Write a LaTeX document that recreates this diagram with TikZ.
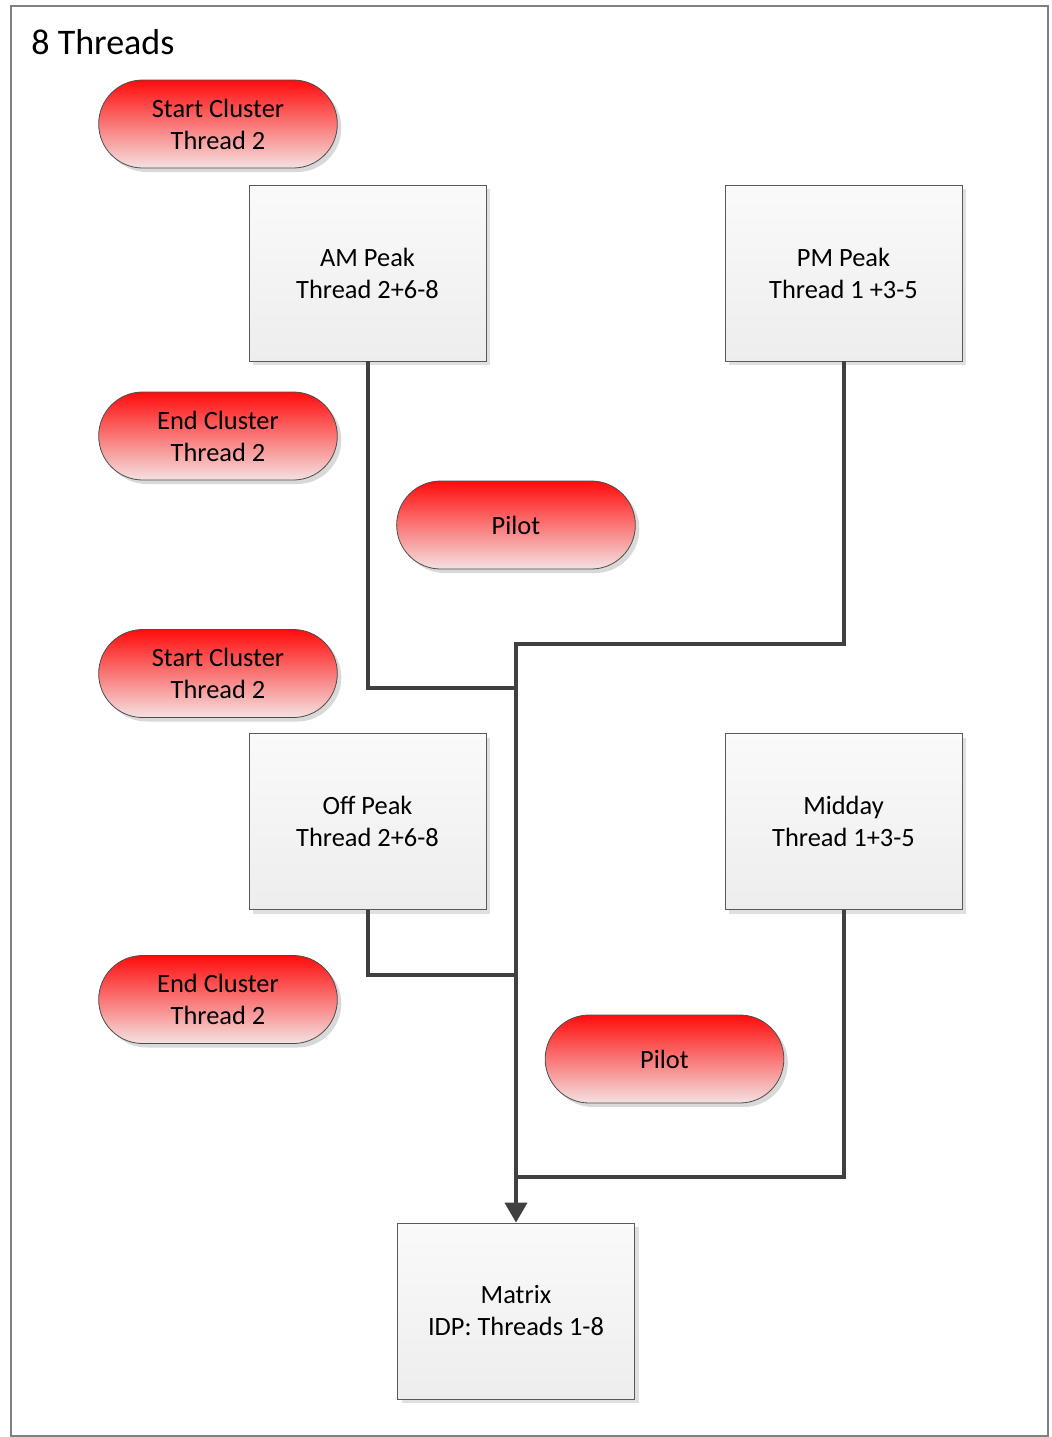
\documentclass[tikz,border=0pt]{standalone}
\usepackage{fontspec}
\setmainfont{Carlito}
\usetikzlibrary{arrows.meta,positioning,shapes.misc,shadows}

\begin{document}
\begin{tikzpicture}[x=0.5pt,y=-0.5pt,
  font=\fontsize{13.2}{16}\selectfont,
  pill/.style={rounded rectangle, draw=black!70, thin, minimum width=126pt, minimum height=44pt,
    top color=red!100!magenta!95, bottom color=red!8!white!96!black, align=center,
    drop shadow={shadow xshift=2pt, shadow yshift=-2pt, fill=black!25, opacity=0.6}},
  task/.style={rectangle, draw=black!65, thin, minimum width=118.5pt, minimum height=88pt,
    top color=black!2, bottom color=black!7, align=center,
    drop shadow={shadow xshift=2pt, shadow yshift=-2pt, fill=black!20, opacity=0.6}},
  conn/.style={draw=black!75, line width=2pt}]
  \useasboundingbox (0,0) rectangle (1051,1437);
  \draw[black!50, line width=1pt] (11,6) rectangle (1048,1436);

  \node (title) [anchor=west, inner sep=0pt, font=\fontsize{18}{20}\selectfont] at (31,42) {8 Threads};

  \node (sc1) [pill] at (218,124) {Start Cluster\\Thread 2};
  \node (am) [task] at (367.5,273) {AM Peak\\Thread 2+6-8};
  \node (pm) [task] at (843.5,273) {PM Peak\\Thread 1 +3-5};
  \node (ec1) [pill] at (218,436) {End Cluster\\Thread 2};
  \node (pilot1) [pill] at (516,525) {Pilot};

  \node (sc2) [pill] at (218,673.5) {Start Cluster\\Thread 2};
  \node (off) [task] at (367.5,821.5) {Off Peak\\Thread 2+6-8};
  \node (mid) [task] at (843.5,821.5) {Midday\\Thread 1+3-5};
  \node (ec2) [pill] at (218,999.5) {End Cluster\\Thread 2};
  \node (pilot2) [pill] at (664.5,1059) {Pilot};

  \node (matrix) [task] at (516,1311) {Matrix\\IDP: Threads 1-8};

  \coordinate (j0) at (516,644);
  \coordinate (j1) at (516,688);
  \coordinate (j2) at (516,975);
  \coordinate (j3) at (516,1177);

  \draw[conn, -{Triangle[width=11pt,length=10pt]}] (pm.south) |- (j0) -- (matrix.north);
  \draw[conn] (am.south) |- (j1);
  \draw[conn] (off.south) |- (j2);
  \draw[conn] (mid.south) |- (j3);
\end{tikzpicture}
\end{document}
